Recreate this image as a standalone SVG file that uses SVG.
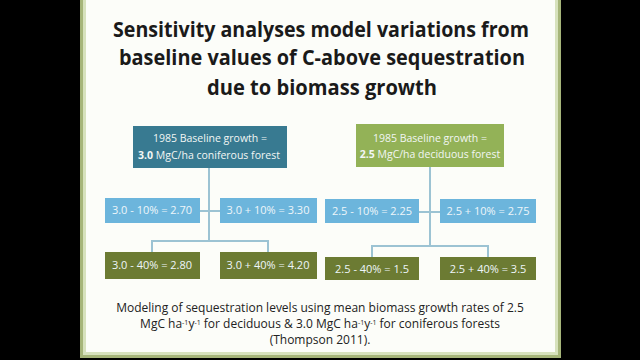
<svg xmlns="http://www.w3.org/2000/svg" width="640" height="360" viewBox="0 0 640 360">
<defs>
<style>
.title{font-family:"Open Sans","Liberation Sans",sans-serif;font-weight:bold;font-size:21.5px;fill:#1a1a1a;text-anchor:middle}
.bt{font-family:"Open Sans","Liberation Sans",sans-serif;font-size:10.5px;fill:#f2f6f4;text-anchor:middle}
.lt{font-family:"Open Sans","Liberation Sans",sans-serif;font-size:11px;fill:#eef6fa;text-anchor:middle}
.cap{font-family:"Open Sans","Liberation Sans",sans-serif;font-size:12px;fill:#222;text-anchor:middle}
.sup{font-size:7px}
.teal{fill:#387a91}
.olive{fill:#93b257}
.blue{fill:#6cb5dc}
.dgreen{fill:#6c7b33}
.conn{stroke:#9cc3d3;stroke-width:2;fill:none}
</style>
</defs>
<rect x="0" y="0" width="640" height="360" fill="#000"/>
<rect x="80" y="-4" width="481" height="362" fill="#a6b57a"/>
<rect x="83" y="-2" width="475" height="357" fill="#d7e2bd"/>
<rect x="86" y="0" width="469" height="352" fill="#fcfdf9"/>
<g id="title">
<text class="title" x="321" y="37" textLength="416" lengthAdjust="spacingAndGlyphs">Sensitivity analyses model variations from</text>
<text class="title" x="322" y="65" textLength="406" lengthAdjust="spacingAndGlyphs">baseline values of C-above sequestration</text>
<text class="title" x="322" y="95" textLength="230" lengthAdjust="spacingAndGlyphs">due to biomass growth</text>
</g>
<g id="connectors">
<path class="conn" d="M209 168 V241 M200 211 H220 M152 252 V241 H268 V252"/>
<path class="conn" d="M430 167 V246 M419 212 H440 M372 257 V246 H488 V257"/>
</g>
<g id="base-coniferous">
<rect class="teal" x="133" y="126" width="154" height="42"/>
<text class="bt" x="210" y="142">1985 Baseline growth =</text>
<text class="bt" x="209" y="159"><tspan font-weight="bold">3.0</tspan> MgC/ha coniferous forest</text>
</g>
<g id="c-minus10">
<rect class="blue" x="105" y="198" width="95" height="25"/>
<text class="lt" x="152" y="214">3.0 - 10% = 2.70</text>
</g>
<g id="c-plus10">
<rect class="blue" x="220" y="198" width="97" height="25"/>
<text class="lt" x="268" y="214">3.0 + 10% = 3.30</text>
</g>
<g id="c-minus40">
<rect class="dgreen" x="105" y="252" width="95" height="27"/>
<text class="lt" x="152" y="269">3.0 - 40% = 2.80</text>
</g>
<g id="c-plus40">
<rect class="dgreen" x="220" y="252" width="97" height="27"/>
<text class="lt" x="268" y="269">3.0 + 40% = 4.20</text>
</g>
<g id="base-deciduous">
<rect class="olive" x="356" y="124" width="148" height="43"/>
<text class="bt" x="430" y="142">1985 Baseline growth =</text>
<text class="bt" x="430" y="158"><tspan font-weight="bold">2.5</tspan> MgC/ha deciduous forest</text>
</g>
<g id="d-minus10">
<rect class="blue" x="325" y="199" width="94" height="24"/>
<text class="lt" x="372" y="215">2.5 - 10% = 2.25</text>
</g>
<g id="d-plus10">
<rect class="blue" x="440" y="199" width="96" height="24"/>
<text class="lt" x="488" y="215">2.5 + 10% = 2.75</text>
</g>
<g id="d-minus40">
<rect class="dgreen" x="325" y="257" width="94" height="23"/>
<text class="lt" x="372" y="273">2.5 - 40% = 1.5</text>
</g>
<g id="d-plus40">
<rect class="dgreen" x="440" y="257" width="96" height="23"/>
<text class="lt" x="488" y="273">2.5 + 40% = 3.5</text>
</g>
<g id="caption">
<text class="cap" x="320" y="312">Modeling of sequestration levels using mean biomass growth rates of 2.5</text>
<text class="cap" x="320" y="328">MgC ha<tspan class="sup" dy="-3.5">-1</tspan><tspan dy="3.5">y</tspan><tspan class="sup" dy="-3.5">-1</tspan><tspan dy="3.5"> for deciduous &amp; 3.0 MgC ha</tspan><tspan class="sup" dy="-3.5">-1</tspan><tspan dy="3.5">y</tspan><tspan class="sup" dy="-3.5">-1</tspan><tspan dy="3.5"> for coniferous forests</tspan></text>
<text class="cap" x="320" y="344">(Thompson 2011).</text>
</g>
</svg>
